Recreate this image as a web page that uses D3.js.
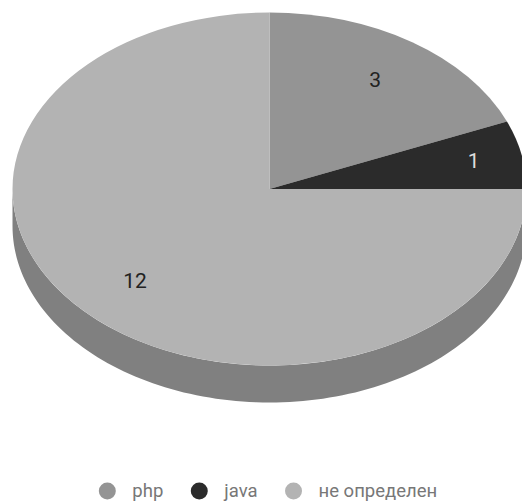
<!DOCTYPE html>
<html>
<head>
<meta charset="utf-8">
<script src="https://cdn.jsdelivr.net/npm/d3@7"></script>
<style>
  html, body { margin: 0; padding: 0; background: #fff; }
  svg { display: block; font-family: Roboto, "Noto Sans", sans-serif; }
</style>
</head>
<body>
<svg id="chart" width="522" height="504"></svg>
<script>
// Slice data
const categories = ["php", "java", "не определен"];
const values = [3, 1, 12];

// Styling
const sliceColors = ["#949494", "#2b2b2b", "#b3b3b3"];
const labelColors = ["#222222", "#dddddd", "#222222"];
const legendTextColor = "#777777";

const width = 522, height = 504;
const cx = 269.5, cy = 189;   // centre of the top face
const rx = 257, ry = 176.5;   // ellipse radii of the tilted disc
const depth = 37;             // thickness of the disc

const svg = d3.select("#chart");

const pie = d3.pie().sort(null).value(d => d.value);
const slices = pie(categories.map((c, i) => ({ name: c, value: values[i], i })));

// Point on the tilted ellipse for a d3 pie angle (0 = 12 o'clock, clockwise)
const ex = a => cx + rx * Math.sin(a);
const ey = a => cy - ry * Math.cos(a);

// Side walls: only the front half (angles from π/2 to 3π/2) is visible
const wallLayer = svg.append("g");
slices.forEach(s => {
  const a0 = Math.max(s.startAngle, Math.PI / 2);
  const a1 = Math.min(s.endAngle, 3 * Math.PI / 2);
  if (a1 <= a0) return;
  const steps = d3.range(0, 121).map(k => a0 + (a1 - a0) * k / 120);
  const pts = steps.map(a => [ex(a), ey(a)])
    .concat(steps.slice().reverse().map(a => [ex(a), ey(a) + depth]));
  wallLayer.append("path")
    .attr("d", d3.line()(pts) + "Z")
    .attr("fill", d3.color(sliceColors[s.data.i]).darker(0.95));
});

// Top face: circular arcs squashed into an ellipse
const arc = d3.arc().innerRadius(0).outerRadius(rx);
svg.append("g")
  .attr("transform", `translate(${cx},${cy}) scale(1,${ry / rx})`)
  .selectAll("path")
  .data(slices)
  .join("path")
  .attr("d", arc)
  .attr("fill", d => sliceColors[d.data.i]);

// Value labels inside the slices; narrow slices push their label outward
const labelFrac = d => (d.endAngle - d.startAngle) < Math.PI / 4 ? 0.81 : 0.74;
svg.append("g")
  .selectAll("text")
  .data(slices)
  .join("text")
  .attr("x", d => cx + labelFrac(d) * rx * Math.sin((d.startAngle + d.endAngle) / 2))
  .attr("y", d => cy - labelFrac(d) * ry * Math.cos((d.startAngle + d.endAngle) / 2))
  .attr("text-anchor", "middle")
  .attr("dominant-baseline", "central")
  .attr("font-size", 21)
  .attr("fill", d => labelColors[d.data.i])
  .text(d => d.data.value);

// Legend centred under the pie
const legendY = 491, dotR = 8.5, textGap = 25, itemGap = 36;
const legend = svg.append("g").attr("font-size", 18.5);
const items = legend.selectAll("g").data(categories).join("g");
items.append("circle").attr("r", dotR).attr("cy", legendY)
  .attr("fill", (d, i) => sliceColors[i]);
items.append("text").attr("y", legendY).attr("dominant-baseline", "central")
  .attr("fill", legendTextColor).text(d => d);

let xPos = 0;
items.each(function () {
  const g = d3.select(this);
  const tw = g.select("text").node().getComputedTextLength();
  g.select("circle").attr("cx", xPos);
  g.select("text").attr("x", xPos + textGap);
  xPos += textGap + tw + itemGap;
});
const totalW = xPos - itemGap + dotR;
legend.attr("transform", `translate(${cx - 1.5 - totalW / 2 + dotR},0)`);
</script>
</body>
</html>
